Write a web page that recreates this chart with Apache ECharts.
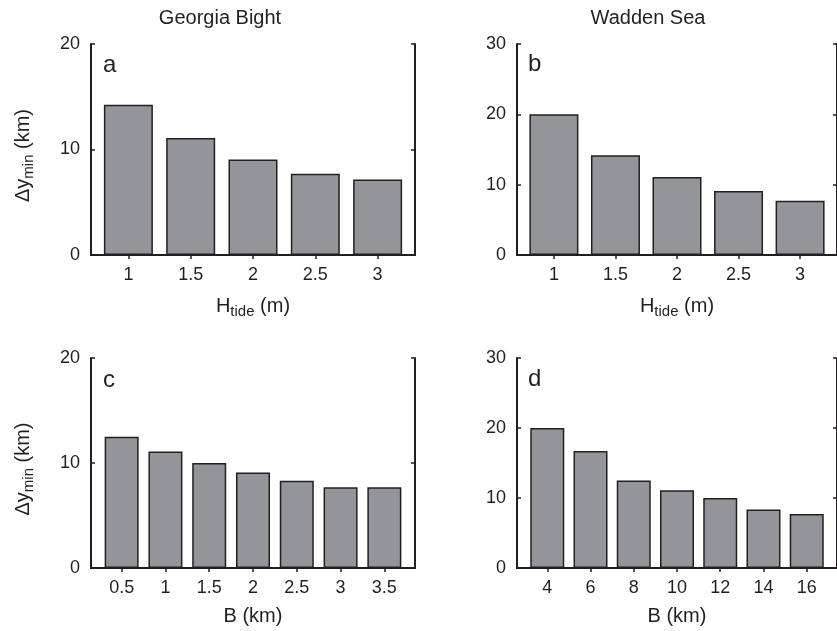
<!DOCTYPE html>
<html>
<head>
<meta charset="utf-8">
<script src="https://cdn.jsdelivr.net/npm/echarts@6/dist/echarts.min.js"></script>
<style>
  html, body { margin: 0; padding: 0; background: #fff; }
  #main { width: 837px; height: 631px; }
</style>
</head>
<body>
<div id="main"></div>
<script>
// tick labels and bar heights (km)
var tideLabels = ['1', '1.5', '2', '2.5', '3'];
var georgiaTide = [14.25, 11.1, 9.05, 7.7, 7.15];
var waddenTide = [20, 14.2, 11.1, 9.1, 7.7];

var georgiaBLabels = ['0.5', '1', '1.5', '2', '2.5', '3', '3.5'];
var georgiaB = [12.5, 11.1, 10.0, 9.1, 8.3, 7.7, 7.7];

var waddenBLabels = ['4', '6', '8', '10', '12', '14', '16'];
var waddenB = [20, 16.7, 12.5, 11.1, 10.0, 8.35, 7.7];

var ink = '#231f20';
var font = '"Liberation Sans", Arial, Helvetica, sans-serif';

var richName = {
  n: { fontSize: 20, fontFamily: font, color: ink },
  s: { fontSize: 15, fontFamily: font, color: ink, padding: [11, 0, 0, 0] }
};

var grids = [], xAxes = [], yAxes = [], series = [];

// one panel: grid + bottom/top x axes + left/right y axes + bar series
function panel(rect, labels, values, ymax, xName, yName, barW) {
  var gi = grids.length;
  var n = labels.length;
  var pad = n === 5 ? 0.6 : 0.7;
  var ticks = labels.map(function (l, i) { return i + 1; });
  grids.push(rect);

  var xBase = {
    type: 'value', gridIndex: gi, min: 1 - pad, max: n + pad,
    splitLine: { show: false },
    axisLine: { lineStyle: { color: ink, width: 2 } },
    axisTick: { inside: true, length: 4, customValues: ticks, lineStyle: { color: ink, width: 1.5 } }
  };
  xAxes.push(Object.assign({}, xBase, {
    position: 'bottom',
    axisLabel: {
      customValues: ticks, margin: 11, fontSize: 18, fontFamily: font, color: ink,
      formatter: function (v) { return labels[Math.round(v) - 1]; }
    },
    name: xName, nameLocation: 'middle', nameGap: 38,
    nameTextStyle: { rich: richName }
  }));
  xAxes.push(Object.assign({}, xBase, { position: 'top', axisLabel: { show: false } }));

  var yBase = {
    type: 'value', gridIndex: gi, min: 0, max: ymax, interval: 10,
    splitLine: { show: false },
    axisLine: { show: true, lineStyle: { color: ink, width: 2 } },
    axisTick: { show: true, inside: true, length: 4, lineStyle: { color: ink, width: 1.5 } }
  };
  yAxes.push(Object.assign({}, yBase, {
    position: 'left',
    axisLabel: { margin: 11, fontSize: 18, fontFamily: font, color: ink },
    name: yName, nameLocation: 'middle', nameRotate: 90, nameGap: 55,
    nameTextStyle: { rich: richName, padding: [0, 12, 0, 0] }
  }));
  yAxes.push(Object.assign({}, yBase, { position: 'right', axisLabel: { show: false } }));

  series.push({
    type: 'bar',
    xAxisIndex: gi * 2,
    yAxisIndex: gi * 2,
    barWidth: barW,
    itemStyle: { color: '#939598', borderColor: ink, borderWidth: 1.5 },
    data: values.map(function (v, i) { return [i + 1, v]; })
  });
}

var yLab = '{n|Δy}{s|min}{n| (km)}';
panel({ left: 91, top: 44, width: 324, height: 211 }, tideLabels, georgiaTide, 20,
  '{n|H}{s|tide}{n| (m)}', yLab, 49);
panel({ left: 517, top: 44, width: 324, height: 211 }, tideLabels, waddenTide, 30,
  '{n|H}{s|tide}{n| (m)}', '', 49);
panel({ left: 91, top: 358, width: 324, height: 210 }, georgiaBLabels, georgiaB, 20,
  '{n|B (km)}', yLab, 34);
panel({ left: 517, top: 358, width: 324, height: 210 }, waddenBLabels, waddenB, 30,
  '{n|B (km)}', '', 34);

function label(text, left, top, size) {
  return { text: text, left: left, top: top, padding: 0,
    textStyle: { fontSize: size, fontWeight: 'normal', fontFamily: font, color: ink } };
}

var chart = echarts.init(document.getElementById('main'));
chart.setOption({
  animation: false,
  title: [
    { text: 'Georgia Bight', left: 220, top: 8, textAlign: 'center', padding: 0,
      textStyle: { fontSize: 20, fontWeight: 'normal', fontFamily: font, color: ink } },
    { text: 'Wadden Sea', left: 648, top: 8, textAlign: 'center', padding: 0,
      textStyle: { fontSize: 20, fontWeight: 'normal', fontFamily: font, color: ink } },
    label('a', 103, 53, 24),
    label('b', 528, 52, 24),
    label('c', 103, 368, 24),
    label('d', 528, 367, 24)
  ],
  grid: grids,
  xAxis: xAxes,
  yAxis: yAxes,
  series: series
});
</script>
</body>
</html>
